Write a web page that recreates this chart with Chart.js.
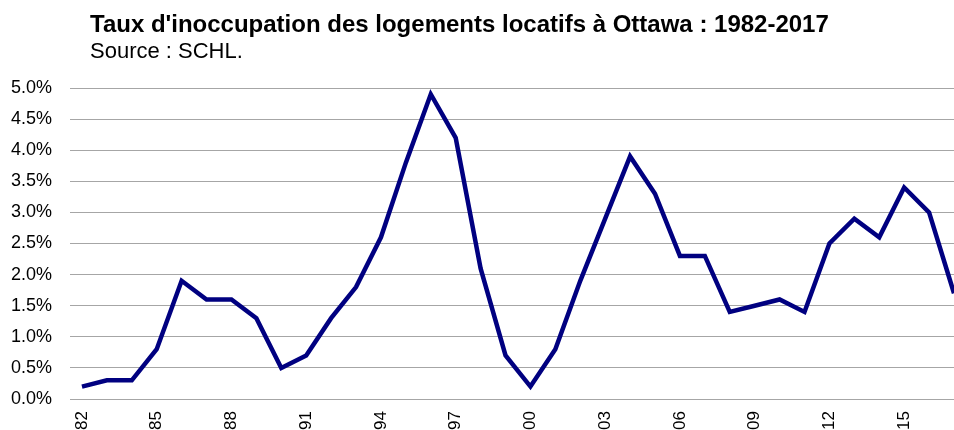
<!DOCTYPE html>
<html>
<head>
<meta charset="utf-8">
<script src="https://cdn.jsdelivr.net/npm/chart.js@4"></script>
<style>
  html, body { margin: 0; padding: 0; background: #fff; }
  #wrap { position: relative; width: 954px; height: 430px; overflow: hidden; font-family: "Liberation Sans", Arial, sans-serif; }
  #title { position: absolute; left: 90px; top: 10px; font-size: 24px; font-weight: bold; color: #000; white-space: nowrap; }
  #subtitle { position: absolute; left: 90px; top: 38px; font-size: 22px; color: #000; white-space: nowrap; }
  #box { position: absolute; left: 0; top: 0; width: 954px; height: 430px; }
</style>
</head>
<body>
<div id="wrap">
  <div id="box"><canvas id="vacancyChart"></canvas></div>
  <div id="title">Taux d'inoccupation des logements locatifs à Ottawa : 1982-2017</div>
  <div id="subtitle">Source : SCHL.</div>
</div>
<script>
// annees 1982 a 2017
const years = [1982, 1983, 1984, 1985, 1986, 1987, 1988, 1989, 1990, 1991,
               1992, 1993, 1994, 1995, 1996, 1997, 1998, 1999, 2000, 2001,
               2002, 2003, 2004, 2005, 2006, 2007, 2008, 2009, 2010, 2011,
               2012, 2013, 2014, 2015, 2016, 2017];
// taux d'inoccupation (%)
const vacancyRate = [0.2, 0.3, 0.3, 0.8, 1.9, 1.6, 1.6, 1.3, 0.5, 0.7,
                     1.3, 1.8, 2.6, 3.8, 4.9, 4.2, 2.1, 0.7, 0.2, 0.8,
                     1.9, 2.9, 3.9, 3.3, 2.3, 2.3, 1.4, 1.5, 1.6, 1.4,
                     2.5, 2.9, 2.6, 3.4, 3.0, 1.7];
const tickYears = [1982, 1985, 1988, 1991, 1994, 1997, 2000, 2003, 2006, 2009, 2012, 2015];

const points = years.map((y, i) => ({ x: y, y: vacancyRate[i] }));

new Chart('vacancyChart', {
    type: 'line',
    data: {
        datasets: [{
            label: "Taux d'inoccupation",
            data: points,
            borderColor: '#000080',
            borderWidth: 4.5,
            pointRadius: 0,
            tension: 0,
            fill: false
        }]
    },
    options: {
        responsive: true,
        maintainAspectRatio: false,
        animation: false,
        layout: { padding: { top: 88, right: 0, left: 0, bottom: 0 } },
        plugins: {
            legend: { display: false },
            tooltip: { enabled: false }
        },
        scales: {
            x: {
                type: 'linear',
                min: 1981.52,
                max: 2017,
                grid: { display: false },
                border: { display: false },
                afterBuildTicks: (scale) => {
                    scale.ticks = tickYears.map(v => ({ value: v }));
                },
                afterFit: (scale) => { scale.height = 31; },
                ticks: {
                    autoSkip: false,
                    minRotation: 90,
                    maxRotation: 90,
                    padding: 4,
                    color: '#000',
                    font: { family: 'Liberation Sans', size: 17 },
                    callback: (v) => String(v).slice(2)
                }
            },
            y: {
                min: 0,
                max: 5,
                grid: { color: '#a6a6a6', lineWidth: 1, drawTicks: false },
                border: { display: false },
                afterFit: (scale) => { scale.width = 70; },
                ticks: {
                    stepSize: 0.5,
                    padding: 18,
                    color: '#000',
                    font: { family: 'Liberation Sans', size: 18 },
                    callback: (v) => v.toFixed(1) + '%'
                }
            }
        }
    }
});
</script>
</body>
</html>
